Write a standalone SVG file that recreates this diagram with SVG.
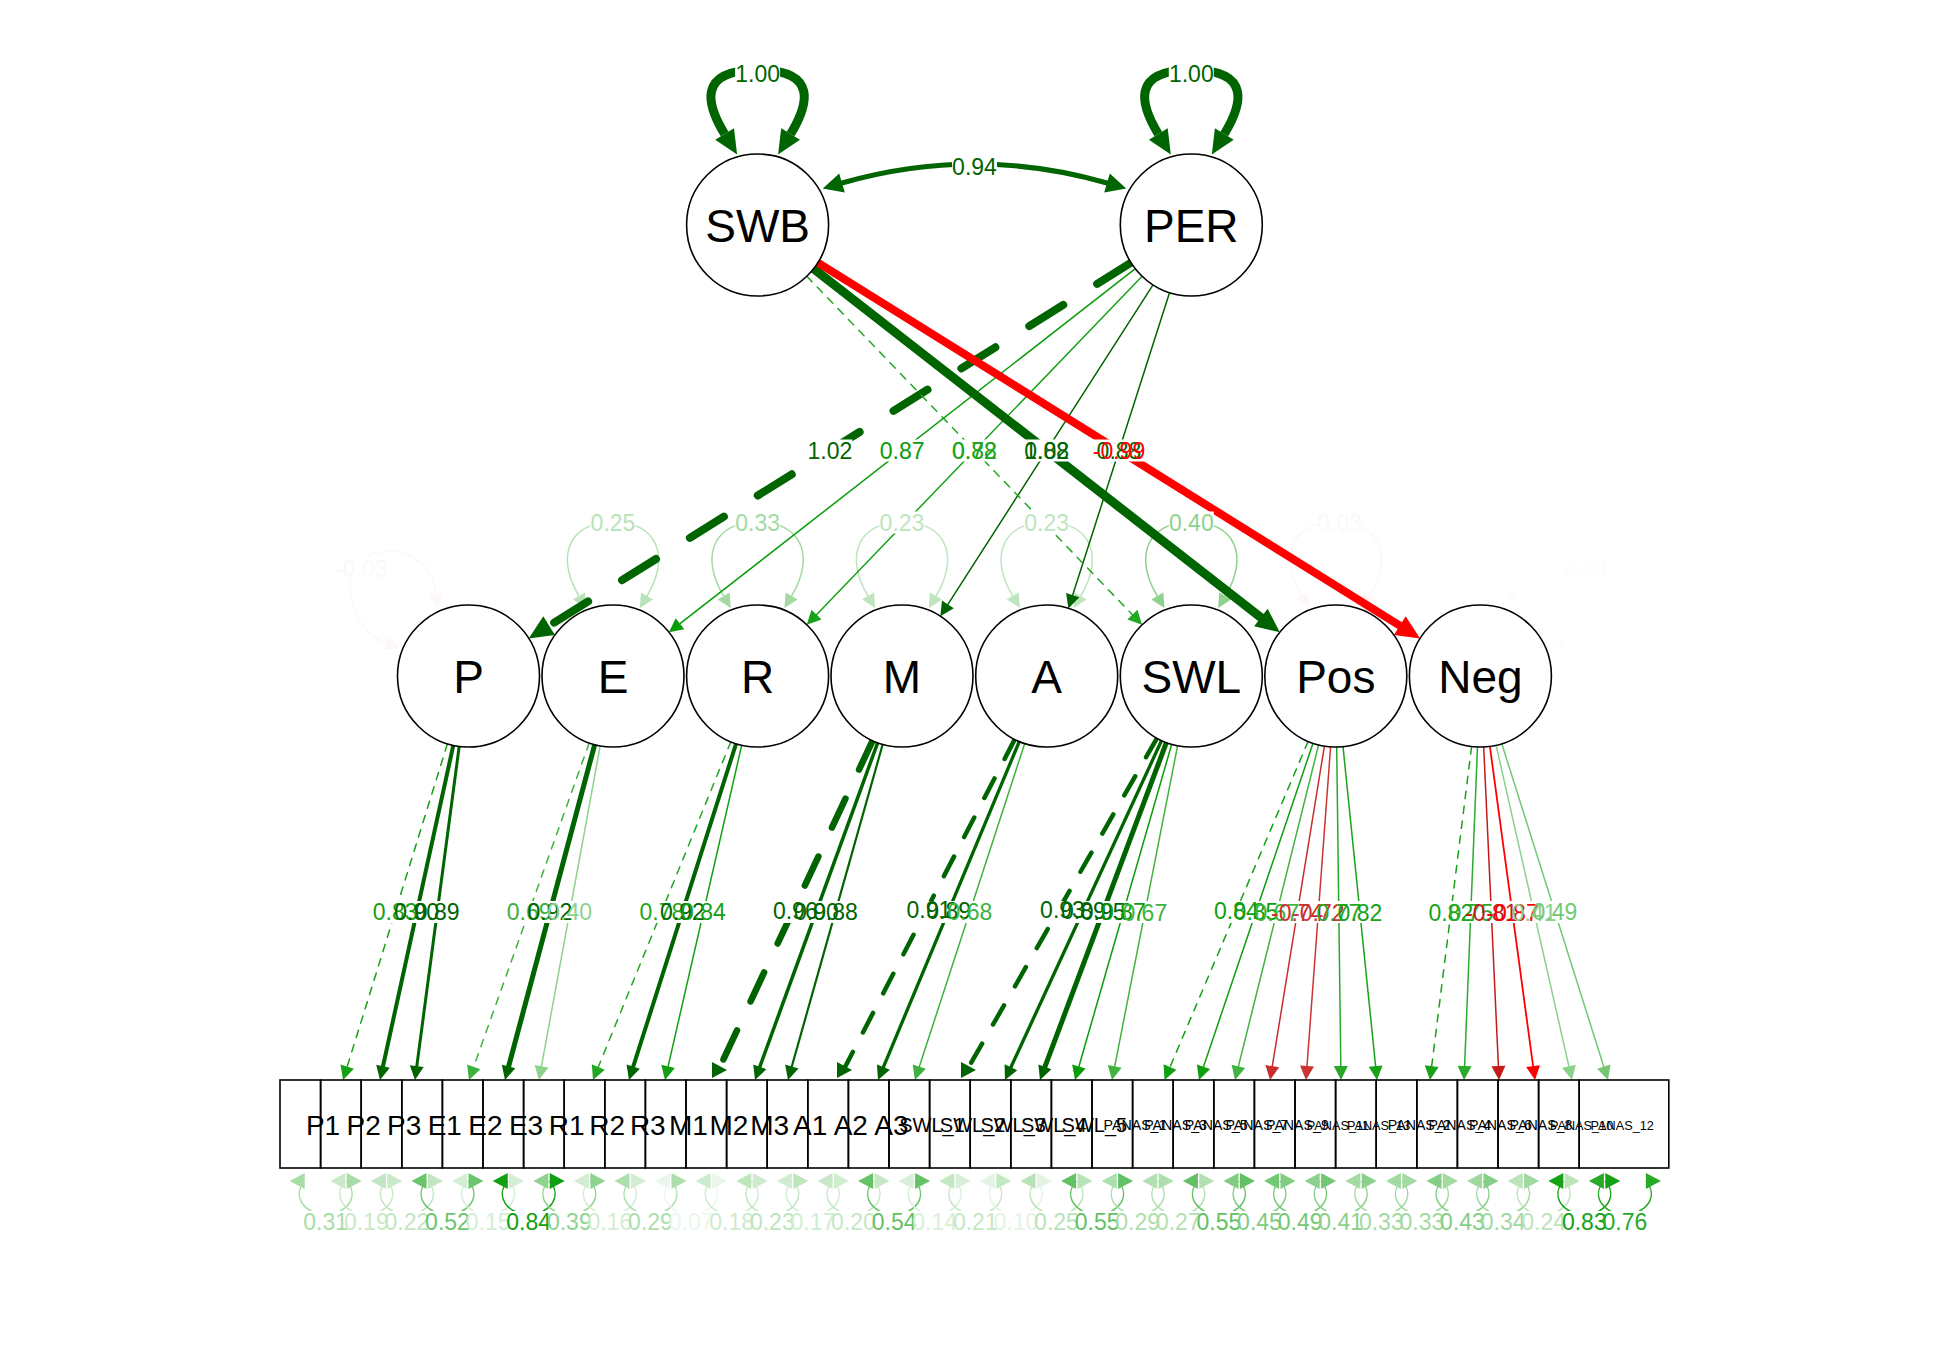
<svg xmlns="http://www.w3.org/2000/svg" xmlns:xlink="http://www.w3.org/1999/xlink" width="1950" height="1350" viewBox="0 0 1950 1350">
<style>
.ln{fill:none;stroke-linecap:round}
.nd{fill:#fff;stroke:#000;stroke-width:1.6}
.bx{fill:none;stroke:#000;stroke-width:1.6}
.nt{font-family:"Liberation Sans",Arial,sans-serif;font-size:46px;text-anchor:middle;fill:#000}
.bt{font-family:"Liberation Sans",Arial,sans-serif;text-anchor:middle;fill:#000}
.el{font-family:"Liberation Sans",Arial,sans-serif;font-size:23px;text-anchor:middle}
.lb{fill:#fff}
</style>
<defs>
<marker id="L0" markerUnits="userSpaceOnUse" orient="auto-start-reverse" overflow="visible"><path d="M0,-11L24,0L0,11z" fill="#006400"/></marker>
<marker id="L1" markerUnits="userSpaceOnUse" orient="auto-start-reverse" overflow="visible"><path d="M0,-11L24,0L0,11z" fill="#FF0000"/></marker>
<marker id="a006400" markerUnits="userSpaceOnUse" orient="auto" overflow="visible"><path d="M0,-7L14,0L0,7z" fill="#006400"/></marker>
<marker id="a14A114" markerUnits="userSpaceOnUse" orient="auto" overflow="visible"><path d="M0,-7L14,0L0,7z" fill="#14A114"/></marker>
<marker id="a3CB13C" markerUnits="userSpaceOnUse" orient="auto" overflow="visible"><path d="M0,-7L14,0L0,7z" fill="#3CB13C"/></marker>
<marker id="a8ED28E" markerUnits="userSpaceOnUse" orient="auto" overflow="visible"><path d="M0,-7L14,0L0,7z" fill="#8ED28E"/></marker>
<marker id="a22A722" markerUnits="userSpaceOnUse" orient="auto" overflow="visible"><path d="M0,-7L14,0L0,7z" fill="#22A722"/></marker>
<marker id="a11A011" markerUnits="userSpaceOnUse" orient="auto" overflow="visible"><path d="M0,-7L14,0L0,7z" fill="#11A011"/></marker>
<marker id="a3EB23E" markerUnits="userSpaceOnUse" orient="auto" overflow="visible"><path d="M0,-7L14,0L0,7z" fill="#3EB23E"/></marker>
<marker id="a089C08" markerUnits="userSpaceOnUse" orient="auto" overflow="visible"><path d="M0,-7L14,0L0,7z" fill="#089C08"/></marker>
<marker id="a41B341" markerUnits="userSpaceOnUse" orient="auto" overflow="visible"><path d="M0,-7L14,0L0,7z" fill="#41B341"/></marker>
<marker id="a0E9F0E" markerUnits="userSpaceOnUse" orient="auto" overflow="visible"><path d="M0,-7L14,0L0,7z" fill="#0E9F0E"/></marker>
<marker id="aCA2D2D" markerUnits="userSpaceOnUse" orient="auto" overflow="visible"><path d="M0,-7L14,0L0,7z" fill="#CA2D2D"/></marker>
<marker id="aCC3333" markerUnits="userSpaceOnUse" orient="auto" overflow="visible"><path d="M0,-7L14,0L0,7z" fill="#CC3333"/></marker>
<marker id="a25A825" markerUnits="userSpaceOnUse" orient="auto" overflow="visible"><path d="M0,-7L14,0L0,7z" fill="#25A825"/></marker>
<marker id="a17A217" markerUnits="userSpaceOnUse" orient="auto" overflow="visible"><path d="M0,-7L14,0L0,7z" fill="#17A217"/></marker>
<marker id="a2BAA2B" markerUnits="userSpaceOnUse" orient="auto" overflow="visible"><path d="M0,-7L14,0L0,7z" fill="#2BAA2B"/></marker>
<marker id="aC51A1A" markerUnits="userSpaceOnUse" orient="auto" overflow="visible"><path d="M0,-7L14,0L0,7z" fill="#C51A1A"/></marker>
<marker id="aFF0000" markerUnits="userSpaceOnUse" orient="auto" overflow="visible"><path d="M0,-7L14,0L0,7z" fill="#FF0000"/></marker>
<marker id="a8BD08B" markerUnits="userSpaceOnUse" orient="auto" overflow="visible"><path d="M0,-7L14,0L0,7z" fill="#8BD08B"/></marker>
<marker id="a74C874" markerUnits="userSpaceOnUse" orient="auto" overflow="visible"><path d="M0,-7L14,0L0,7z" fill="#74C874"/></marker>
<g id="tloop"><path d="M-33,134 C-50,106 -62,70 0,70 C62,70 50,106 33,134" fill="none" stroke="currentColor" stroke-width="9"/><path d="M-20.5,154.5L-42.4,139.7L-23.6,128.3z M20.5,154.5L42.4,139.7L23.6,128.3z" fill="currentColor"/></g>
<g id="vloop"><path d="M-34,596 C-58,556 -44,522 0,522 C44,522 58,556 34,596" fill="none" stroke="currentColor" stroke-width="1.5"/><path d="M-26.8,608L-40,599.6L-28,592.4z M26.8,608L40,599.6L28,592.4z" fill="currentColor"/></g>
<g id="rl"><path d="M-21,1181 C-34,1196 -22,1214 0,1214 C22,1214 34,1196 21,1181" fill="none" stroke="currentColor" stroke-width="1.5"/><path d="M-36,1181L-21,1173L-21,1189z M36,1181L21,1173L21,1189z" fill="currentColor"/></g>
<path id="rt" d="M0,0L-15,-8L-15,8z"/>
</defs>
<rect width="1950" height="1350" fill="#fff"/>

<g id="connectors">
<path class="ln" d="M436,593 C432,555 390,540 362,560 C340,578 350,630 386,643" stroke="#FDF7F7" stroke-width="1.5"/>
<path d="M437.5,606.9L429,593.7L443,592.3z M399.2,647.7L383.6,649.6L388.4,636.4z" fill="#FDF7F7"/>
<use href="#vloop" x="613" color="#B8E3B8"/>
<use href="#vloop" x="757.6" color="#A2DAA2"/>
<use href="#vloop" x="902" color="#BEE5BE"/>
<use href="#vloop" x="1046.7" color="#BEE5BE"/>
<use href="#vloop" x="1191.3" color="#8ED28E"/>
<use href="#vloop" x="1335.8" color="#FDF7F7"/>
<path class="ln" d="M1512.9,593 C1516.9,555 1558.9,540 1586.9,560 C1608.9,578 1598.9,630 1562.9,643" stroke="#FCFEFC" stroke-width="1.5"/>
<path d="M1511.4,606.9L1519.9,593.7L1505.9,592.3z M1549.7,647.7L1565.3,649.6L1560.5,636.4z" fill="#FCFEFC"/>
<use href="#tloop" x="757.6" color="#006400"/>
<use href="#tloop" x="1191.3" color="#006400"/>
<path class="ln" d="M842,183 Q974.5,145 1107,183" stroke="#006400" stroke-width="5" stroke-linecap="butt"/>
<path d="M822.8,188.5L839.2,173.4L844.8,192.6z M1126.2,188.5L1109.8,173.4L1104.2,192.6z" fill="#006400"/>
<path class="ln" d="M1131.1,262.6L549.1,625.7" stroke="#006400" stroke-width="8" stroke-dasharray="40 40" marker-end="url(#L0)"/>
<path class="ln" d="M1135.3,268.7L680,623.7" stroke="#089C08" stroke-width="1.5" marker-end="url(#a089C08)"/>
<path class="ln" d="M1142.1,276.2L816.5,614.7" stroke="#17A217" stroke-width="1.5" marker-end="url(#a17A217)"/>
<path class="ln" d="M1153,284.8L947.9,604.4" stroke="#006400" stroke-width="1.5" marker-end="url(#a006400)"/>
<path class="ln" d="M1169.6,292.6L1072.7,595.1" stroke="#006400" stroke-width="1.5" marker-end="url(#a006400)"/>
<path class="ln" d="M806.8,276.2L1132.4,614.7" stroke="#22A722" stroke-width="1.5" stroke-dasharray="7.5 7.5" marker-end="url(#a22A722)"/>
<path class="ln" d="M813.6,268.7L1260.9,617.5" stroke="#006400" stroke-width="9" stroke-linecap="butt" marker-end="url(#L0)"/>
<path class="ln" d="M817.8,262.6L1399.8,625.7" stroke="#FF0000" stroke-width="8" stroke-linecap="butt" marker-end="url(#L1)"/>
<path class="ln" d="M447.4,743.8L347.2,1066.6" stroke="#14A114" stroke-width="1.5" stroke-dasharray="7.5 7.5" marker-end="url(#a14A114)"/>
<path class="ln" d="M453.3,745.4L383,1066.3" stroke="#006400" stroke-width="4" marker-end="url(#a006400)"/>
<path class="ln" d="M459.2,746.4L416.8,1066.1" stroke="#006400" stroke-width="3" marker-end="url(#a006400)"/>
<path class="ln" d="M589.2,742.9L473.7,1066.8" stroke="#3CB13C" stroke-width="1.5" stroke-dasharray="7.5 7.5" marker-end="url(#a3CB13C)"/>
<path class="ln" d="M594.7,744.6L508.6,1066.5" stroke="#006400" stroke-width="5" marker-end="url(#a006400)"/>
<path class="ln" d="M600.2,745.8L541.5,1066.2" stroke="#8ED28E" stroke-width="1.5" marker-end="url(#a8ED28E)"/>
<path class="ln" d="M730.8,741.8L598.3,1067" stroke="#22A722" stroke-width="1.5" stroke-dasharray="7.5 7.5" marker-end="url(#a22A722)"/>
<path class="ln" d="M736.1,743.6L633.2,1066.7" stroke="#006400" stroke-width="4" marker-end="url(#a006400)"/>
<path class="ln" d="M741.7,745.2L668.1,1066.4" stroke="#11A011" stroke-width="1.5" marker-end="url(#a11A011)"/>
<path class="ln" d="M872.6,740.6L718.5,1070" stroke="#006400" stroke-width="6.5" stroke-dasharray="32 32"/>
<use href="#rt" x="727" y="1070" fill="#006400"/>
<path class="ln" d="M877.7,742.7L759.8,1066.8" stroke="#006400" stroke-width="3.5" marker-end="url(#a006400)"/>
<path class="ln" d="M882.7,744.3L791.8,1066.5" stroke="#006400" stroke-width="2.2" marker-end="url(#a006400)"/>
<path class="ln" d="M1014.7,739.4L843.5,1070" stroke="#006400" stroke-width="4.5" stroke-dasharray="22 22"/>
<use href="#rt" x="852" y="1070" fill="#006400"/>
<path class="ln" d="M1019.3,741.5L883.4,1067.1" stroke="#006400" stroke-width="3.3" marker-end="url(#a006400)"/>
<path class="ln" d="M1024.7,743.5L919.3,1066.7" stroke="#3EB23E" stroke-width="1.5" marker-end="url(#a3EB23E)"/>
<path class="ln" d="M1157,738.1L967,1070" stroke="#006400" stroke-width="4.5" stroke-dasharray="22 22"/>
<use href="#rt" x="976" y="1070" fill="#006400"/>
<path class="ln" d="M1161.6,740.5L1010.9,1067.3" stroke="#006400" stroke-width="3.3" marker-end="url(#a006400)"/>
<path class="ln" d="M1166.4,742.5L1044.9,1066.9" stroke="#006400" stroke-width="5" marker-end="url(#a006400)"/>
<path class="ln" d="M1171.7,744.2L1078.9,1066.5" stroke="#089C08" stroke-width="1.5" marker-end="url(#a089C08)"/>
<path class="ln" d="M1177.6,745.7L1114.7,1066.3" stroke="#41B341" stroke-width="1.5" marker-end="url(#a41B341)"/>
<path class="ln" d="M1308.1,741.4L1170,1067.1" stroke="#11A011" stroke-width="1.5" stroke-dasharray="7.5 7.5" marker-end="url(#a11A011)"/>
<path class="ln" d="M1313,743.3L1203.5,1066.7" stroke="#0E9F0E" stroke-width="1.5" marker-end="url(#a0E9F0E)"/>
<path class="ln" d="M1318.6,744.9L1238.4,1066.4" stroke="#41B341" stroke-width="1.5" marker-end="url(#a41B341)"/>
<path class="ln" d="M1324.4,746.1L1272.3,1066.2" stroke="#CA2D2D" stroke-width="1.5" marker-end="url(#aCA2D2D)"/>
<path class="ln" d="M1330.6,746.8L1307,1066" stroke="#CC3333" stroke-width="1.5" marker-end="url(#aCC3333)"/>
<path class="ln" d="M1336.7,747L1340.8,1066" stroke="#25A825" stroke-width="1.5" marker-end="url(#a25A825)"/>
<path class="ln" d="M1343,746.6L1375.6,1066.1" stroke="#17A217" stroke-width="1.5" marker-end="url(#a17A217)"/>
<path class="ln" d="M1471.6,746.5L1431.7,1066.1" stroke="#17A217" stroke-width="1.5" stroke-dasharray="7.5 7.5" marker-end="url(#a17A217)"/>
<path class="ln" d="M1477.5,746.9L1464.6,1066" stroke="#2BAA2B" stroke-width="1.5" marker-end="url(#a2BAA2B)"/>
<path class="ln" d="M1483.7,746.9L1498.4,1066" stroke="#C51A1A" stroke-width="1.5" marker-end="url(#aC51A1A)"/>
<path class="ln" d="M1489.9,746.4L1533.1,1066.1" stroke="#FF0000" stroke-width="1.8" marker-end="url(#aFF0000)"/>
<path class="ln" d="M1496.1,745.2L1568.9,1066.3" stroke="#8BD08B" stroke-width="1.5" marker-end="url(#a8BD08B)"/>
<path class="ln" d="M1501.8,743.7L1603.8,1066.7" stroke="#74C874" stroke-width="1.5" marker-end="url(#a74C874)"/>
<use href="#rl" x="325.7" color="#A7DCA7"/>
<use href="#rl" x="366.3" color="#C9E9C9"/>
<use href="#rl" x="406.9" color="#C1E6C1"/>
<use href="#rl" x="447.5" color="#6CC46C"/>
<use href="#rl" x="488.1" color="#D4EED4"/>
<use href="#rl" x="528.7" color="#11A011"/>
<use href="#rl" x="569.3" color="#90D390"/>
<use href="#rl" x="609.9" color="#D2EDD2"/>
<use href="#rl" x="650.5" color="#ADDEAD"/>
<use href="#rl" x="691.1" color="#EBF7EB"/>
<use href="#rl" x="731.7" color="#CCEBCC"/>
<use href="#rl" x="772.3" color="#BEE5BE"/>
<use href="#rl" x="812.9" color="#CFEECF"/>
<use href="#rl" x="853.5" color="#C6E8C6"/>
<use href="#rl" x="894.1" color="#66C266"/>
<use href="#rl" x="934.7" color="#D7EFD7"/>
<use href="#rl" x="975.3" color="#C4E7C4"/>
<use href="#rl" x="1015.9" color="#E3F4E3"/>
<use href="#rl" x="1056.5" color="#B8E3B8"/>
<use href="#rl" x="1097.1" color="#63C163"/>
<use href="#rl" x="1137.7" color="#ADDEAD"/>
<use href="#rl" x="1178.3" color="#B3E0B3"/>
<use href="#rl" x="1218.9" color="#63C163"/>
<use href="#rl" x="1259.5" color="#80CC80"/>
<use href="#rl" x="1300.1" color="#74C874"/>
<use href="#rl" x="1340.7" color="#8BD08B"/>
<use href="#rl" x="1381.3" color="#A2DAA2"/>
<use href="#rl" x="1421.9" color="#A2DAA2"/>
<use href="#rl" x="1462.5" color="#85CE85"/>
<use href="#rl" x="1503.1" color="#9FD99F"/>
<use href="#rl" x="1543.7" color="#BBE4BB"/>
<use href="#rl" x="1584.3" color="#14A114"/>
<use href="#rl" x="1624.9" color="#28A928"/>
</g>

<g id="SWB"><circle cx="757.6" cy="225" r="71" class="nd"/><text x="757.6" y="241.5" class="nt">SWB</text></g>
<g id="PER"><circle cx="1191.3" cy="225" r="71" class="nd"/><text x="1191.3" y="241.5" class="nt">PER</text></g>
<g id="P"><circle cx="468.5" cy="676" r="71" class="nd"/><text x="468.5" y="692.5" class="nt">P</text></g>
<g id="E"><circle cx="613" cy="676" r="71" class="nd"/><text x="613" y="692.5" class="nt">E</text></g>
<g id="R"><circle cx="757.6" cy="676" r="71" class="nd"/><text x="757.6" y="692.5" class="nt">R</text></g>
<g id="M"><circle cx="902" cy="676" r="71" class="nd"/><text x="902" y="692.5" class="nt">M</text></g>
<g id="A"><circle cx="1046.7" cy="676" r="71" class="nd"/><text x="1046.7" y="692.5" class="nt">A</text></g>
<g id="SWL"><circle cx="1191.3" cy="676" r="71" class="nd"/><text x="1191.3" y="692.5" class="nt">SWL</text></g>
<g id="Pos"><circle cx="1335.8" cy="676" r="71" class="nd"/><text x="1335.8" y="692.5" class="nt">Pos</text></g>
<g id="Neg"><circle cx="1480.4" cy="676" r="71" class="nd"/><text x="1480.4" y="692.5" class="nt">Neg</text></g>

<g id="n-P1"><rect x="280" y="1080" width="40.6" height="88" class="bx"/><text x="323" y="1135" class="bt" font-size="28">P1</text></g>
<g id="n-P2"><rect x="320.6" y="1080" width="40.6" height="88" class="bx"/><text x="363.6" y="1135" class="bt" font-size="28">P2</text></g>
<g id="n-P3"><rect x="361.2" y="1080" width="40.6" height="88" class="bx"/><text x="404.2" y="1135" class="bt" font-size="28">P3</text></g>
<g id="n-E1"><rect x="401.8" y="1080" width="40.6" height="88" class="bx"/><text x="444.8" y="1135" class="bt" font-size="28">E1</text></g>
<g id="n-E2"><rect x="442.4" y="1080" width="40.6" height="88" class="bx"/><text x="485.4" y="1135" class="bt" font-size="28">E2</text></g>
<g id="n-E3"><rect x="483" y="1080" width="40.6" height="88" class="bx"/><text x="526" y="1135" class="bt" font-size="28">E3</text></g>
<g id="n-R1"><rect x="523.6" y="1080" width="40.6" height="88" class="bx"/><text x="566.6" y="1135" class="bt" font-size="28">R1</text></g>
<g id="n-R2"><rect x="564.2" y="1080" width="40.6" height="88" class="bx"/><text x="607.2" y="1135" class="bt" font-size="28">R2</text></g>
<g id="n-R3"><rect x="604.8" y="1080" width="40.6" height="88" class="bx"/><text x="647.8" y="1135" class="bt" font-size="28">R3</text></g>
<g id="n-M1"><rect x="645.4" y="1080" width="40.6" height="88" class="bx"/><text x="688.4" y="1135" class="bt" font-size="28">M1</text></g>
<g id="n-M2"><rect x="686" y="1080" width="40.6" height="88" class="bx"/><text x="729" y="1135" class="bt" font-size="28">M2</text></g>
<g id="n-M3"><rect x="726.6" y="1080" width="40.6" height="88" class="bx"/><text x="769.6" y="1135" class="bt" font-size="28">M3</text></g>
<g id="n-A1"><rect x="767.2" y="1080" width="40.6" height="88" class="bx"/><text x="810.2" y="1135" class="bt" font-size="28">A1</text></g>
<g id="n-A2"><rect x="807.8" y="1080" width="40.6" height="88" class="bx"/><text x="850.8" y="1135" class="bt" font-size="28">A2</text></g>
<g id="n-A3"><rect x="848.4" y="1080" width="40.6" height="88" class="bx"/><text x="891.4" y="1135" class="bt" font-size="28">A3</text></g>
<g id="n-SWL_1"><rect x="889" y="1080" width="40.6" height="88" class="bx"/><text x="932" y="1132" class="bt" font-size="20">SWL_1</text></g>
<g id="n-SWL_2"><rect x="929.6" y="1080" width="40.6" height="88" class="bx"/><text x="972.6" y="1132" class="bt" font-size="20">SWL_2</text></g>
<g id="n-SWL_3"><rect x="970.2" y="1080" width="40.6" height="88" class="bx"/><text x="1013.2" y="1132" class="bt" font-size="20">SWL_3</text></g>
<g id="n-SWL_4"><rect x="1010.8" y="1080" width="40.6" height="88" class="bx"/><text x="1053.8" y="1132" class="bt" font-size="20">SWL_4</text></g>
<g id="n-SWL_5"><rect x="1051.4" y="1080" width="40.6" height="88" class="bx"/><text x="1094.4" y="1132" class="bt" font-size="20">SWL_5</text></g>
<g id="n-PANAS_1"><rect x="1092" y="1080" width="40.6" height="88" class="bx"/><text x="1135" y="1130" class="bt" font-size="14.2">PANAS_1</text></g>
<g id="n-PANAS_3"><rect x="1132.6" y="1080" width="40.6" height="88" class="bx"/><text x="1175.6" y="1130" class="bt" font-size="14.2">PANAS_3</text></g>
<g id="n-PANAS_5"><rect x="1173.2" y="1080" width="40.6" height="88" class="bx"/><text x="1216.2" y="1130" class="bt" font-size="14.2">PANAS_5</text></g>
<g id="n-PANAS_7"><rect x="1213.8" y="1080" width="40.6" height="88" class="bx"/><text x="1256.8" y="1130" class="bt" font-size="14.2">PANAS_7</text></g>
<g id="n-PANAS_9"><rect x="1254.4" y="1080" width="40.6" height="88" class="bx"/><text x="1297.4" y="1130" class="bt" font-size="14.2">PANAS_9</text></g>
<g id="n-PANAS_11"><rect x="1295" y="1080" width="40.6" height="88" class="bx"/><text x="1338" y="1130" class="bt" font-size="12.7">PANAS_11</text></g>
<g id="n-PANAS_13"><rect x="1335.6" y="1080" width="40.6" height="88" class="bx"/><text x="1378.6" y="1130" class="bt" font-size="12.7">PANAS_13</text></g>
<g id="n-PANAS_2"><rect x="1376.2" y="1080" width="40.6" height="88" class="bx"/><text x="1419.2" y="1130" class="bt" font-size="14.2">PANAS_2</text></g>
<g id="n-PANAS_4"><rect x="1416.8" y="1080" width="40.6" height="88" class="bx"/><text x="1459.8" y="1130" class="bt" font-size="14.2">PANAS_4</text></g>
<g id="n-PANAS_6"><rect x="1457.4" y="1080" width="40.6" height="88" class="bx"/><text x="1500.4" y="1130" class="bt" font-size="14.2">PANAS_6</text></g>
<g id="n-PANAS_8"><rect x="1498" y="1080" width="40.6" height="88" class="bx"/><text x="1541" y="1130" class="bt" font-size="14.2">PANAS_8</text></g>
<g id="n-PANAS_10"><rect x="1538.6" y="1080" width="40.6" height="88" class="bx"/><text x="1581.6" y="1130" class="bt" font-size="12.7">PANAS_10</text></g>
<g id="n-PANAS_12"><rect x="1579.2" y="1080" width="89.6" height="88" class="bx"/><text x="1622.2" y="1130" class="bt" font-size="12.7">PANAS_12</text></g>

<g id="edge-label-bg" class="lb">
<rect x="735.1" y="63" width="45" height="22"/><rect x="1168.8" y="63" width="45" height="22"/>
<rect x="952" y="155.5" width="45" height="22"/>
<rect x="807.4" y="439.5" width="45" height="22"/><rect x="879.7" y="439.5" width="45" height="22"/><rect x="951.9" y="439.5" width="45" height="22"/><rect x="1024.1" y="439.5" width="45" height="22"/><rect x="1093" y="439.5" width="52" height="22"/>
<rect x="335.4" y="557.5" width="52" height="22"/><rect x="590.5" y="511.5" width="45" height="22"/><rect x="735.1" y="511.5" width="45" height="22"/><rect x="879.5" y="511.5" width="45" height="22"/><rect x="1024.2" y="511.5" width="45" height="22"/><rect x="1168.8" y="511.5" width="45" height="22"/><rect x="1309.8" y="511.5" width="52" height="22"/><rect x="1565" y="557.5" width="45" height="22"/>
<rect x="372.7" y="901" width="87" height="22"/><rect x="506.6" y="901" width="85.5" height="22"/><rect x="639.4" y="901" width="86.5" height="22"/><rect x="772.8" y="901" width="85" height="22"/><rect x="906.4" y="901" width="86" height="22"/><rect x="1040" y="901" width="127.3" height="22"/><rect x="1213.8" y="901" width="168.7" height="22"/><rect x="1428.3" y="901" width="149.1" height="22"/>
<rect x="303" y="1211" width="1344.5" height="21"/>
</g>

<g id="edge-labels" class="el">
<text x="757.6" y="82.2" fill="#006400">1.00</text>
<text x="1191.3" y="82.2" fill="#006400">1.00</text>
<text x="974.5" y="174.7" fill="#006400">0.94</text>
<text x="829.9" y="458.7" fill="#006400">1.02</text>
<text x="902.2" y="458.7" fill="#089C08">0.87</text>
<text x="974.4" y="458.7" fill="#17A217">0.82</text>
<text x="1046.6" y="458.7" fill="#006400">0.88</text>
<text x="1119" y="458.7" fill="#006400">0.88</text>
<text x="974.4" y="458.7" fill="#22A722">0.78</text>
<text x="1046.7" y="458.7" fill="#006400">1.02</text>
<text x="1119" y="458.7" fill="#FF0000">-0.99</text>
<text x="361.4" y="576.7" fill="#FDF7F7">-0.03</text>
<text x="613" y="530.7" fill="#B8E3B8">0.25</text>
<text x="757.6" y="530.7" fill="#A2DAA2">0.33</text>
<text x="902" y="530.7" fill="#BEE5BE">0.23</text>
<text x="1046.7" y="530.7" fill="#BEE5BE">0.23</text>
<text x="1191.3" y="530.7" fill="#8ED28E">0.40</text>
<text x="1335.8" y="530.7" fill="#FDF7F7">-0.03</text>
<text x="1587.5" y="576.7" fill="#FCFEFC">0.01</text>
<text x="395.2" y="920.2" fill="#14A114">0.83</text>
<text x="416.7" y="920.2" fill="#006400">0.90</text>
<text x="437.1" y="920.2" fill="#006400">0.89</text>
<text x="529.1" y="920.2" fill="#3CB13C">0.69</text>
<text x="549.8" y="920.2" fill="#006400">0.92</text>
<text x="569.6" y="920.2" fill="#8ED28E">0.40</text>
<text x="661.9" y="920.2" fill="#22A722">0.78</text>
<text x="682.5" y="920.2" fill="#006400">0.92</text>
<text x="703.4" y="920.2" fill="#11A011">0.84</text>
<text x="795.3" y="918.5" fill="#006400">0.96</text>
<text x="816.4" y="919.5" fill="#006400">0.90</text>
<text x="835.4" y="920.2" fill="#006400">0.88</text>
<text x="928.9" y="918" fill="#006400">0.91</text>
<text x="948.7" y="919" fill="#006400">0.89</text>
<text x="969.9" y="920.2" fill="#3EB23E">0.68</text>
<text x="1062.5" y="917.5" fill="#006400">0.93</text>
<text x="1083.3" y="918.5" fill="#006400">0.89</text>
<text x="1103.2" y="919.5" fill="#006400">0.95</text>
<text x="1123.3" y="920.2" fill="#089C08">0.87</text>
<text x="1144.8" y="920.7" fill="#41B341">0.67</text>
<text x="1236.3" y="919" fill="#11A011">0.84</text>
<text x="1256" y="919.7" fill="#0E9F0E">0.85</text>
<text x="1276.8" y="920.5" fill="#41B341">0.67</text>
<text x="1297.2" y="921" fill="#CA2D2D">-0.74</text>
<text x="1318.3" y="921" fill="#CC3333">-0.72</text>
<text x="1338.9" y="921" fill="#25A825">0.77</text>
<text x="1360" y="921" fill="#17A217">0.82</text>
<text x="1450.8" y="921" fill="#17A217">0.82</text>
<text x="1470.8" y="921" fill="#2BAA2B">0.75</text>
<text x="1491.4" y="921" fill="#C51A1A">-0.81</text>
<text x="1512.5" y="921" fill="#FF0000">-0.87</text>
<text x="1534.1" y="920.7" fill="#8BD08B">0.41</text>
<text x="1554.9" y="920.2" fill="#74C874">0.49</text>
<text x="325.7" y="1229.7" fill="#A7DCA7">0.31</text>
<text x="366.3" y="1229.7" fill="#C9E9C9">0.19</text>
<text x="406.9" y="1229.7" fill="#C1E6C1">0.22</text>
<text x="447.5" y="1229.7" fill="#6CC46C">0.52</text>
<text x="488.1" y="1229.7" fill="#D4EED4">0.15</text>
<text x="528.7" y="1229.7" fill="#11A011">0.84</text>
<text x="569.3" y="1229.7" fill="#90D390">0.39</text>
<text x="609.9" y="1229.7" fill="#D2EDD2">0.16</text>
<text x="650.5" y="1229.7" fill="#ADDEAD">0.29</text>
<text x="691.1" y="1229.7" fill="#EBF7EB">0.07</text>
<text x="731.7" y="1229.7" fill="#CCEBCC">0.18</text>
<text x="772.3" y="1229.7" fill="#BEE5BE">0.23</text>
<text x="812.9" y="1229.7" fill="#CFEECF">0.17</text>
<text x="853.5" y="1229.7" fill="#C6E8C6">0.20</text>
<text x="894.1" y="1229.7" fill="#66C266">0.54</text>
<text x="934.7" y="1229.7" fill="#D7EFD7">0.14</text>
<text x="975.3" y="1229.7" fill="#C4E7C4">0.21</text>
<text x="1015.9" y="1229.7" fill="#E3F4E3">0.10</text>
<text x="1056.5" y="1229.7" fill="#B8E3B8">0.25</text>
<text x="1097.1" y="1229.7" fill="#63C163">0.55</text>
<text x="1137.7" y="1229.7" fill="#ADDEAD">0.29</text>
<text x="1178.3" y="1229.7" fill="#B3E0B3">0.27</text>
<text x="1218.9" y="1229.7" fill="#63C163">0.55</text>
<text x="1259.5" y="1229.7" fill="#80CC80">0.45</text>
<text x="1300.1" y="1229.7" fill="#74C874">0.49</text>
<text x="1340.7" y="1229.7" fill="#8BD08B">0.41</text>
<text x="1381.3" y="1229.7" fill="#A2DAA2">0.33</text>
<text x="1421.9" y="1229.7" fill="#A2DAA2">0.33</text>
<text x="1462.5" y="1229.7" fill="#85CE85">0.43</text>
<text x="1503.1" y="1229.7" fill="#9FD99F">0.34</text>
<text x="1543.7" y="1229.7" fill="#BBE4BB">0.24</text>
<text x="1584.3" y="1229.7" fill="#14A114">0.83</text>
<text x="1624.9" y="1229.7" fill="#28A928">0.76</text>
</g>
</svg>
